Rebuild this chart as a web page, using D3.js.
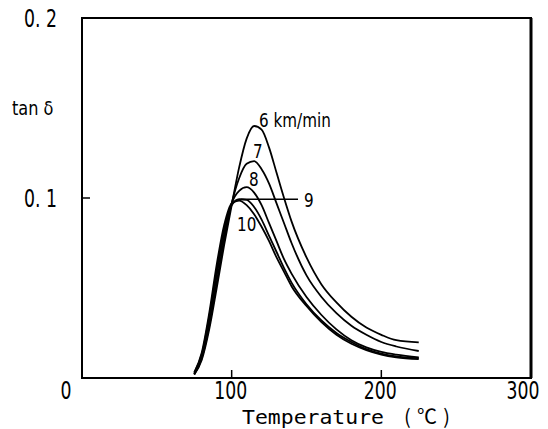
<!DOCTYPE html>
<html><head><meta charset="utf-8">
<script src="https://cdn.jsdelivr.net/npm/d3@7"></script>
<style>
html,body{margin:0;padding:0;background:#fff;}
svg text{font-family:"DejaVu Sans","Liberation Sans",sans-serif;fill:#000;}
</style></head>
<body>
<svg id="chart" width="548" height="429"></svg>
<script>
// temperatures (°C)
const temps = [75, 80, 85, 90, 95, 100, 105, 110, 115, 120, 125, 130, 135, 140, 150, 160, 170, 180, 190, 200, 210, 225];
// tan δ for each take-up speed
const speed6  = [0.002, 0.010, 0.027, 0.050, 0.074, 0.096, 0.117, 0.133, 0.140, 0.138, 0.128, 0.114, 0.100, 0.087, 0.067, 0.052, 0.042, 0.034, 0.028, 0.024, 0.021, 0.0198];
const speed7  = [0.002, 0.011, 0.029, 0.053, 0.077, 0.097, 0.111, 0.119, 0.1205, 0.116, 0.108, 0.097, 0.086, 0.075, 0.057, 0.045, 0.036, 0.029, 0.024, 0.020, 0.0175, 0.015];
const speed8  = [0.002, 0.012, 0.031, 0.057, 0.080, 0.097, 0.104, 0.106, 0.103, 0.096, 0.086, 0.076, 0.066, 0.058, 0.045, 0.035, 0.027, 0.021, 0.017, 0.0145, 0.013, 0.0115];
const speed9  = [0.003, 0.013, 0.034, 0.060, 0.083, 0.096, 0.0993, 0.099, 0.095, 0.088, 0.079, 0.070, 0.061, 0.053, 0.041, 0.032, 0.025, 0.020, 0.016, 0.0135, 0.012, 0.011];
const speed10 = [0.003, 0.014, 0.036, 0.063, 0.085, 0.097, 0.0985, 0.096, 0.091, 0.084, 0.076, 0.067, 0.059, 0.051, 0.040, 0.031, 0.024, 0.019, 0.0155, 0.013, 0.0115, 0.0105];
const seriesNames = ["6 km/min", "7", "8", "9", "10"];
const seriesValues = [speed6, speed7, speed8, speed9, speed10];
const xTicks = [0, 100, 200, 300];
const yTickLabels = ["0. 1", "0. 2"];
const yTicks = [0.1, 0.2];

const svg = d3.select("#chart");
const x = d3.scaleLinear().domain([0, 300]).range([82, 531]);
const y = d3.scaleLinear().domain([0, 0.2]).range([378, 18]);

function ctext(px, py, str, size, anchor, sx) {
  return svg.append("text")
    .attr("transform", `translate(${px},${py}) scale(${sx || 0.72},1)`)
    .attr("text-anchor", anchor || "start")
    .attr("font-size", size)
    .text(str);
}

// frame
svg.append("rect").attr("x", x(0)).attr("y", y(0.2))
  .attr("width", x(300) - x(0)).attr("height", y(0) - y(0.2))
  .attr("fill", "none").attr("stroke", "#000").attr("stroke-width", 2);
svg.append("line").attr("x1", x(300)).attr("x2", x(300)).attr("y1", y(0.2)).attr("y2", y(0))
  .attr("stroke", "#000").attr("stroke-width", 3);

// ticks (inward)
svg.selectAll(".xt").data([100, 200]).enter().append("line")
  .attr("x1", d => x(d)).attr("x2", d => x(d)).attr("y1", y(0)).attr("y2", y(0) - 8)
  .attr("stroke", "#000").attr("stroke-width", 1.5);
svg.append("line").attr("x1", x(0)).attr("x2", x(0) + 8).attr("y1", y(0.1)).attr("y2", y(0.1))
  .attr("stroke", "#000").attr("stroke-width", 1.5);

// x tick labels
xTicks.forEach(d => {
  const px = d === 0 ? x(d) - 16 : (d === 300 ? x(d) - 8 : x(d) - 1);
  ctext(px, 399, d, 24, "middle");
});

// y tick labels
yTicks.forEach((d, i) => ctext(57, y(d) + 9, yTickLabels[i], 24, "end"));

// axis titles
ctext(12, 115, "tan δ", 19, "start", 0.85);
svg.append("text").attr("x", 242).attr("y", 424).attr("font-size", 20)
  .style("font-family", "'DejaVu Sans Mono','Liberation Mono',monospace")
  .attr("textLength", 142).attr("lengthAdjust", "spacingAndGlyphs")
  .text("Temperature");
svg.append("text").attr("x", 404).attr("y", 424).attr("font-size", 20)
  .style("font-family", "'Noto Sans CJK JP','DejaVu Sans',sans-serif")
  .attr("textLength", 46).attr("lengthAdjust", "spacing")
  .text("(℃)");

// curves
const line = d3.line()
  .x((d, i) => x(temps[i]))
  .y(d => y(d))
  .curve(d3.curveMonotoneX);
svg.selectAll(".curve").data(seriesValues).enter().append("path")
  .attr("d", d => line(d))
  .attr("fill", "none").attr("stroke", "#000").attr("stroke-width", 1.8);

// leader line for 9
svg.append("line").attr("x1", x(106)).attr("x2", 298).attr("y1", y(0.0993)).attr("y2", y(0.0993))
  .attr("stroke", "#000").attr("stroke-width", 1.5);

// curve labels
const labelPos = [[259, 127], [253, 158], [249, 186], [304, 207], [237, 231]];
seriesNames.forEach((d, i) => ctext(labelPos[i][0], labelPos[i][1], d, 19, "start", 0.8));
</script>
</body></html>
